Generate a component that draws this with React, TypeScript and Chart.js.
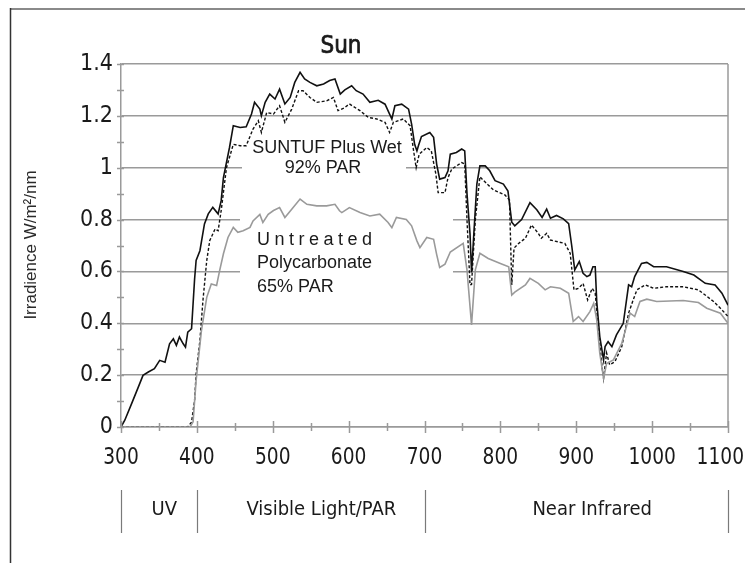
import React, { useEffect, useRef } from "react";
import { Chart, registerables } from "chart.js";

Chart.register(...registerables);

// ---- Data (wavelength nm / irradiance W/m²/nm) ----
const sunNm = [300,305,314,322,329,336,344,351,358,364,369,373,377,382,385,388,393,397,399,404,410,415,421,428,432,435,443,448,457,465,472,476,483,485,490,496,503,509,516,523,529,536,542,549,558,567,575,582,589,595,604,610,619,628,639,648,654,657,661,670,679,683,687,690,692,696,707,712,716,720,727,731,734,742,749,753,756,760,762,765,769,773,780,786,793,804,810,815,819,828,839,848,855,861,866,874,883,890,894,898,904,909,914,918,922,925,927,931,936,938,942,947,953,962,969,973,977,986,993,1002,1019,1041,1055,1070,1083,1092,1100];
const sunVal = [0,0.026,0.09,0.148,0.199,0.212,0.225,0.257,0.25,0.321,0.34,0.315,0.347,0.321,0.308,0.366,0.379,0.571,0.642,0.68,0.783,0.822,0.847,0.822,0.873,0.962,1.078,1.162,1.155,1.158,1.207,1.252,1.226,1.2,1.252,1.284,1.265,1.303,1.246,1.271,1.329,1.368,1.342,1.329,1.316,1.323,1.336,1.342,1.284,1.3,1.316,1.297,1.284,1.252,1.26,1.245,1.207,1.188,1.239,1.245,1.226,1.168,1.09,1.065,1.085,1.12,1.136,1.117,1.014,0.956,0.962,0.988,1.052,1.059,1.072,1.065,0.9,0.744,0.596,0.744,0.937,1.007,1.007,0.988,0.95,0.937,0.91,0.79,0.776,0.8,0.865,0.838,0.808,0.84,0.805,0.816,0.803,0.784,0.7,0.606,0.638,0.593,0.58,0.586,0.618,0.618,0.484,0.349,0.259,0.31,0.329,0.31,0.355,0.4,0.548,0.541,0.58,0.631,0.635,0.618,0.618,0.6,0.586,0.554,0.548,0.516,0.47];

const suntufNm = [300,388,393,397,399,404,408,413,417,424,428,432,439,448,457,465,474,481,485,492,501,509,516,525,534,540,549,558,571,580,586,594,601,615,626,637,648,654,659,672,681,685,689,693,703,709,715,718,727,731,736,749,753,756,760,762,767,773,784,791,806,812,815,818,824,833,841,850,854,861,866,885,892,897,903,909,915,921,925,929,934,936,940,944,951,960,969,975,980,991,1002,1019,1041,1061,1081,1092,1100];
const suntufVal = [0,0,0.019,0.103,0.205,0.334,0.488,0.642,0.719,0.764,0.757,0.834,1.0,1.09,1.085,1.085,1.149,1.181,1.136,1.213,1.207,1.239,1.175,1.226,1.297,1.297,1.271,1.252,1.258,1.271,1.22,1.23,1.246,1.22,1.194,1.188,1.175,1.136,1.175,1.188,1.162,1.078,1.0,1.052,1.078,1.065,0.975,0.904,0.904,0.962,0.995,1.02,1.014,0.8,0.548,0.55,0.8,0.965,0.933,0.914,0.895,0.875,0.548,0.69,0.708,0.728,0.779,0.747,0.728,0.747,0.721,0.708,0.67,0.529,0.535,0.554,0.49,0.535,0.516,0.387,0.233,0.188,0.285,0.24,0.252,0.31,0.439,0.49,0.529,0.548,0.535,0.541,0.541,0.529,0.484,0.452,0.426];

const untreatedNm = [300,391,395,399,406,413,419,426,430,435,441,448,454,461,470,474,483,487,494,501,509,516,525,536,545,558,571,582,588,591,601,615,628,641,652,657,663,676,683,690,694,703,712,716,720,727,734,751,756,762,767,773,784,800,811,815,819,833,839,850,859,866,879,890,896,903,909,918,923,927,931,936,940,949,960,971,977,984,993,1006,1041,1061,1072,1090,1100];
const untreatedVal = [0,0,0.02,0.18,0.372,0.5,0.552,0.546,0.603,0.668,0.731,0.77,0.751,0.757,0.77,0.795,0.82,0.789,0.82,0.835,0.846,0.808,0.84,0.879,0.859,0.853,0.853,0.859,0.834,0.827,0.846,0.827,0.814,0.821,0.789,0.769,0.808,0.8,0.776,0.718,0.692,0.731,0.724,0.666,0.615,0.628,0.675,0.708,0.606,0.394,0.606,0.67,0.65,0.631,0.618,0.509,0.52,0.548,0.573,0.554,0.529,0.541,0.535,0.516,0.407,0.426,0.407,0.445,0.477,0.413,0.285,0.188,0.245,0.259,0.323,0.439,0.426,0.484,0.493,0.484,0.488,0.48,0.458,0.439,0.4];

// ---- Axis / label text ----
const chartTitle = "Sun";
const yAxisTitle = "Irradience W/m\u00B2/nm";
const xMin = 300;
const xMax = 1100;
const yMax = 1.4;
const sectionNames = ["UV", "Visible Light/PAR", "Near Infrared"];
const sectionBounds = [300, 400, 700, 1100];
const sectionLabelNm = [357, 564, 921];
const suntufLabel = ["SUNTUF Plus Wet", "92% PAR"];
const untreatedLabel = ["Untreated", "Polycarbonate", "65% PAR"];

const GRID = "#9a9a9a";
const TEXT = "#1a1a1a";
const NARROW = '"DejaVu Sans Condensed", "DejaVu Sans", sans-serif';
const SANS = '"Liberation Sans", Arial, sans-serif';
const CANVAS_W = 745;
const CANVAS_H = 563;

const pts = (xs: number[], ys: number[]) => xs.map((x, i) => ({ x, y: ys[i] }));

const decor = {
  id: "decor",
  beforeDatasetsDraw(chart: any) {
    const { ctx, chartArea: a } = chart;
    ctx.save();
    ctx.strokeStyle = GRID;
    ctx.lineWidth = 1.5;
    ctx.beginPath();
    ctx.moveTo(a.right, a.top);
    ctx.lineTo(a.right, a.bottom);
    ctx.stroke();
    ctx.fillStyle = "#ffffff";
    ctx.fillRect(242, 134, 164, 46);
    ctx.fillRect(240, 206, 213, 92);
    ctx.fillStyle = TEXT;
    ctx.font = `18px ${SANS}`;
    ctx.textAlign = "center";
    ctx.textBaseline = "middle";
    ctx.fillText(suntufLabel[0], 327, 148);
    ctx.fillText(suntufLabel[1], 323, 168);
    ctx.textAlign = "left";
    (ctx as any).letterSpacing = "4.5px";
    ctx.fillText(untreatedLabel[0], 257, 240);
    (ctx as any).letterSpacing = "0px";
    ctx.fillText(untreatedLabel[1], 257, 263);
    ctx.fillText(untreatedLabel[2], 257, 287);
    ctx.restore();
  },
  afterDraw(chart: any) {
    const { ctx, scales } = chart;
    const x = scales.x;
    const y = scales.y;
    ctx.save();
    // outer frame
    ctx.strokeStyle = "#8a8a8a";
    ctx.lineWidth = 2;
    ctx.beginPath();
    ctx.moveTo(10, 9);
    ctx.lineTo(CANVAS_W, 9);
    ctx.stroke();
    ctx.strokeStyle = "#333";
    ctx.lineWidth = 1.5;
    ctx.beginPath();
    ctx.moveTo(10.5, 8);
    ctx.lineTo(10.5, CANVAS_H);
    ctx.stroke();

    // tick marks
    ctx.strokeStyle = GRID;
    ctx.lineWidth = 1.5;
    const y0 = y.getPixelForValue(0);
    for (let v = xMin; v <= xMax; v += 50) {
      const px = Math.round(x.getPixelForValue(v)) + 0.5;
      const len = v % 100 === 0 ? 6 : 4;
      ctx.beginPath();
      ctx.moveTo(px, y0 - len);
      ctx.lineTo(px, y0 + len);
      ctx.stroke();
    }
    const x0 = x.getPixelForValue(xMin);
    for (let i = 0; i <= 14; i++) {
      const py = Math.round(y.getPixelForValue(i / 10)) + 0.5;
      ctx.beginPath();
      ctx.moveTo(x0 - 4, py);
      ctx.lineTo(x0 + 3, py);
      ctx.stroke();
    }

    // x tick labels (condensed, kept inside the canvas)
    ctx.fillStyle = TEXT;
    ctx.font = `23px ${NARROW}`;
    ctx.textAlign = "center";
    ctx.textBaseline = "middle";
    const sx = 0.9;
    x.ticks.forEach((t: any) => {
      const label = String(t.value);
      const w = ctx.measureText(label).width * sx;
      const cx = Math.min(x.getPixelForValue(t.value), CANVAS_W - 1 - w / 2);
      ctx.save();
      ctx.translate(cx, 458);
      ctx.scale(sx, 1);
      ctx.fillText(label, 0, 0);
      ctx.restore();
    });

    // title
    ctx.font = `24px ${NARROW}`;
    ctx.lineWidth = 0.7;
    ctx.strokeStyle = TEXT;
    ctx.fillText(chartTitle, 341, 47);
    ctx.strokeText(chartTitle, 341, 47);

    // y-axis title
    ctx.save();
    ctx.translate(31, 245);
    ctx.rotate(-Math.PI / 2);
    ctx.font = `17px ${SANS}`;
    ctx.fillStyle = "#2a2a2a";
    ctx.fillText(yAxisTitle, 0, 0);
    ctx.restore();

    // section separators + labels
    ctx.strokeStyle = "#7a7a7a";
    ctx.lineWidth = 1.2;
    sectionBounds.forEach((b) => {
      const px = Math.round(x.getPixelForValue(b)) + 0.5;
      ctx.beginPath();
      ctx.moveTo(px, 490);
      ctx.lineTo(px, 533);
      ctx.stroke();
    });
    ctx.font = `20px ${NARROW}`;
    sectionNames.forEach((n, i) => {
      ctx.fillText(n, x.getPixelForValue(sectionLabelNm[i]), 510);
    });
    ctx.restore();
  },
};

export default function App() {
  const ref = useRef<HTMLCanvasElement | null>(null);
  useEffect(() => {
    if (!ref.current) return;
    const chart = new Chart(ref.current, {
      type: "line",
      data: {
        datasets: [
          {
            label: "Untreated Polycarbonate",
            data: pts(untreatedNm, untreatedVal),
            borderColor: "#9a9a9a",
            borderWidth: 1.6,
            pointRadius: 0,
            tension: 0,
          },
          {
            label: "SUNTUF Plus Wet",
            data: pts(suntufNm, suntufVal),
            borderColor: "#111",
            borderWidth: 1.4,
            borderDash: [3, 2],
            pointRadius: 0,
            tension: 0,
          },
          {
            label: "Sun",
            data: pts(sunNm, sunVal),
            borderColor: "#111",
            borderWidth: 1.6,
            pointRadius: 0,
            tension: 0,
          },
        ],
      },
      options: {
        animation: false,
        responsive: false,
        devicePixelRatio: 1,
        layout: { padding: { left: 0, top: 64, right: 17, bottom: 96 } },
        plugins: { legend: { display: false }, tooltip: { enabled: false }, title: { display: false } },
        scales: {
          x: {
            type: "linear",
            min: xMin,
            max: xMax,
            ticks: { stepSize: 100, display: false, autoSkip: false, maxRotation: 0 },
            grid: { display: false, drawTicks: false },
            border: { display: true, color: GRID, width: 1.5 },
            afterFit: (s: any) => {
              s.height = 40;
              s.paddingLeft = 0;
              s.paddingRight = 0;
            },
          },
          y: {
            min: 0,
            max: yMax,
            ticks: {
              stepSize: 0.1,
              font: { family: NARROW, size: 23 },
              color: TEXT,
              padding: 8,
              autoSkip: false,
              callback: (v: any) => {
                const r = Math.round(Number(v) * 10);
                return r % 2 === 0 ? String(r / 10) : "";
              },
            },
            grid: {
              drawTicks: false,
              lineWidth: 1.5,
              color: (c: any) => {
                const r = Math.round(Number(c.tick?.value) * 10);
                return r % 2 === 0 ? GRID : "rgba(0,0,0,0)";
              },
            },
            border: { display: true, color: GRID, width: 1.5 },
            afterFit: (s: any) => {
              s.width = 121;
              s.paddingTop = 0;
              s.paddingBottom = 0;
            },
          },
        },
      },
      plugins: [decor],
    });
    return () => chart.destroy();
  }, []);
  return (
    <div style={{ position: "absolute", left: 0, top: 0, width: CANVAS_W, height: CANVAS_H, background: "#fff" }}>
      <canvas ref={ref} width={CANVAS_W} height={CANVAS_H} style={{ display: "block" }} />
    </div>
  );
}
